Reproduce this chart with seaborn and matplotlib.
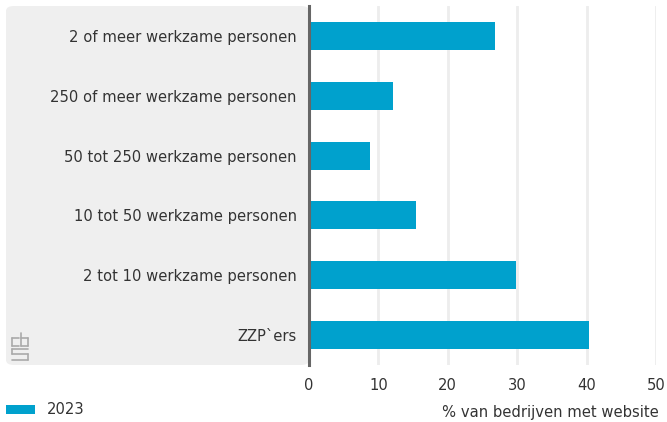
import pandas as pd
import matplotlib.pyplot as plt
import seaborn as sns
from matplotlib.patches import FancyBboxPatch, Patch

# data
categories = [
    "2 of meer werkzame personen",
    "250 of meer werkzame personen",
    "50 tot 250 werkzame personen",
    "10 tot 50 werkzame personen",
    "2 tot 10 werkzame personen",
    "ZZP`ers",
]
values_2023 = [26.8, 12.1, 8.8, 15.4, 29.8, 40.3]
x_ticks = [0, 10, 20, 30, 40, 50]

df = pd.DataFrame({"categorie": categories, "waarde": values_2023})

sns.set_style("white")
plt.rcParams['font.family'] = ['DejaVu Sans']
BLUE = "#00a1cd"
TXT = "#333333"
FS = 10.6

fig = plt.figure(figsize=(6.67, 4.22), dpi=100)

# grijs vlak achter de labels
panel = FancyBboxPatch((6 / 667, 1 - 365 / 422), (309 - 6) / 667, (365 - 6) / 422,
                       boxstyle="round,pad=0,rounding_size=0.012",
                       transform=fig.transFigure, facecolor="#efefef",
                       edgecolor="none", zorder=-5)
fig.patches.append(panel)

ax = fig.add_axes([309 / 667, 1 - 365 / 422, (656 - 309) / 667, (365 - 6) / 422])
ax.set_zorder(2)

sns.barplot(data=df, x="waarde", y="categorie", color=BLUE, width=0.47,
            saturation=1, linewidth=0, ax=ax, zorder=3)

ax.set_xlim(0, 50)
ax.set_ylim(5.5, -0.5)
ax.set_xticks(x_ticks)
ax.set_xticklabels([str(t) for t in x_ticks], fontsize=FS, color=TXT)
ax.tick_params(axis="y", labelsize=FS, colors=TXT, length=0, pad=9)
ax.tick_params(axis="x", length=0, pad=9)
ax.set_ylabel("")
ax.set_xlabel("")
ax.set_facecolor("none")
for s in ["top", "right", "bottom"]:
    ax.spines[s].set_visible(False)
ax.spines["left"].set_color("#666666")
ax.spines["left"].set_linewidth(2.2)
ax.spines["left"].set_zorder(5)
ax.xaxis.grid(True, color="#ededed", linewidth=2, zorder=0)
ax.set_axisbelow(True)

# x-as titel rechtsonder
fig.text(659 / 667, 1 - 413 / 422, "% van bedrijven met website",
         ha="right", va="center", fontsize=FS, color=TXT)

# legenda linksonder
fig.legend(handles=[Patch(facecolor=BLUE, edgecolor="none", label="2023")],
           loc="center left", bbox_to_anchor=(0.0, 1 - 410 / 422),
           frameon=False, fontsize=FS, handlelength=2.0, handleheight=0.6,
           labelcolor=TXT, borderaxespad=0)

# simpel cbs-logo
lx, ly = 12, 333
for (x0, y0, x1, y1) in [(7, 5, 0, 5), (0, 5, 0, 13), (0, 13, 7, 13),
                         (9, 0, 9, 13), (9, 5, 16, 5), (16, 5, 16, 13), (16, 13, 9, 13),
                         (16, 16, 0, 16), (0, 16, 0, 21), (0, 21, 16, 21), (16, 21, 16, 27),
                         (16, 27, 0, 27)]:
    fig.add_artist(plt.Line2D([(lx + x0) / 667, (lx + x1) / 667],
                              [1 - (ly + y0) / 422, 1 - (ly + y1) / 422],
                              color="#aaaaaa", linewidth=1.2))

plt.savefig("out.png", dpi=100)
